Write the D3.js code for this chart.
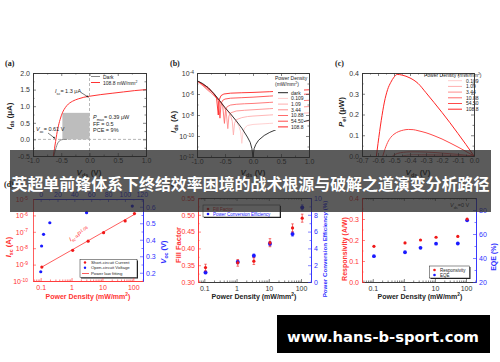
<!DOCTYPE html>
<html>
<head>
<meta charset="utf-8">
<script src="https://cdn.jsdelivr.net/npm/d3@7/dist/d3.min.js"></script>
<style>
body { margin: 0; background: #fff; }
svg { display: block; }
</style>
</head>
<body>
<div id="container"></div>
<script>
// ---------- data ----------
const densities = [0.109, 1.09, 3.44, 10.88, 54.5, 108.8];
const densityLabels = ["0.109", "1.09", "3.44", "10.88", "54.50", "108.8"];
const densityColors = ["#ffcccc", "#ffaeae", "#ff8e8e", "#ff6c6c", "#ff4a4a", "#ff2424"];

// (a) I-V, dark and 108.8 mW/mm2
const ivDarkV = [-0.63, -0.61, -0.59, -0.57, -0.55, -0.52, -0.49, -0.46, -0.4];
const ivDarkI = [-0.5, -0.36, -0.24, -0.14, -0.08, -0.03, -0.01, 0, 0];
const ivLightV = [-0.64, -0.62, -0.6, -0.58, -0.56, -0.54, -0.52, -0.5, -0.48, -0.45, -0.4, -0.3, -0.2, -0.1, 0, 0.2, 0.4, 0.6, 0.8, 1.0];
const ivLightI = [-0.5, -0.28, -0.06, 0.15, 0.33, 0.48, 0.6, 0.71, 0.8, 0.9, 1.02, 1.15, 1.22, 1.27, 1.3, 1.35, 1.39, 1.43, 1.47, 1.5];
const mpV = -0.48, mpI = 0.8;

// (b) log10 |Ids| (A)
const logDarkV = [-1, -0.9, -0.8, -0.7, -0.6, -0.5, -0.4, -0.3, -0.2, -0.1, -0.05, -0.02, 0, 0.02, 0.05, 0.1, 0.2, 0.3, 0.5, 0.7, 1.0];
const logDarkI = [-4.73, -5.0, -5.4, -5.95, -6.6, -7.3, -7.9, -8.55, -9.25, -10.1, -10.6, -11.2, -12, -11.2, -10.8, -10.4, -9.95, -9.65, -9.2, -8.9, -8.5];
const logLightV = [
  [-1, -0.6, -0.4, -0.3, -0.25, -0.22, -0.2, -0.18, -0.15, -0.1, 0, 0.3, 0.6, 1.0],
  [-1, -0.6, -0.45, -0.4, -0.37, -0.35, -0.33, -0.3, -0.2, -0.1, 0, 0.3, 0.6, 1.0],
  [-1, -0.6, -0.52, -0.48, -0.45, -0.43, -0.4, -0.3, -0.15, 0, 0.3, 0.6, 1.0],
  [-1, -0.7, -0.58, -0.54, -0.51, -0.49, -0.46, -0.4, -0.3, -0.15, 0, 0.3, 0.6, 1.0],
  [-1, -0.8, -0.68, -0.62, -0.59, -0.57, -0.54, -0.5, -0.4, -0.2, 0, 0.3, 0.6, 1.0],
  [-1, -0.8, -0.7, -0.65, -0.62, -0.6, -0.57, -0.52, -0.4, -0.2, 0, 0.3, 0.6, 1.0]
];
const logLightI = [
  [-4.73, -6.6, -7.9, -8.6, -9.1, -9.6, -10.7, -9.7, -9.25, -9.0, -8.9, -8.8, -8.7, -8.6],
  [-4.73, -6.6, -7.65, -8.05, -8.6, -9.9, -8.8, -8.45, -8.25, -8.15, -8.1, -8.0, -7.9, -7.8],
  [-4.73, -6.6, -7.2, -7.65, -9.3, -8.1, -7.8, -7.62, -7.55, -7.5, -7.4, -7.3, -7.2],
  [-4.73, -5.95, -6.75, -7.2, -8.8, -7.5, -7.2, -7.05, -6.98, -6.93, -6.9, -6.8, -6.7, -6.6],
  [-4.73, -5.4, -6.1, -6.6, -8.3, -6.9, -6.6, -6.48, -6.4, -6.35, -6.3, -6.2, -6.1, -6.0],
  [-4.73, -5.4, -6.0, -6.4, -8.0, -6.5, -6.15, -6.0, -5.92, -5.88, -5.85, -5.78, -5.7, -5.6]
];

// (c) electrical power (uW)
const powV = [
  [-0.2, -0.15, -0.1, -0.05, 0],
  [-0.35, -0.3, -0.25, -0.2, -0.1, 0],
  [-0.45, -0.42, -0.38, -0.33, -0.25, -0.15, 0],
  [-0.51, -0.48, -0.44, -0.4, -0.35, -0.3, -0.2, -0.1, 0],
  [-0.57, -0.56, -0.54, -0.52, -0.5, -0.47, -0.44, -0.41, -0.38, -0.35, -0.3, -0.25, -0.2, -0.15, -0.1, -0.05, 0],
  [-0.61, -0.6, -0.58, -0.56, -0.54, -0.52, -0.5, -0.48, -0.45, -0.4, -0.35, -0.3, -0.25, -0.2, -0.15, -0.1, -0.05, 0]
];
const powP = [
  [0, 0.0001, 0.00015, 0.0001, 0],
  [0, 0.001, 0.0015, 0.0015, 0.001, 0],
  [0, 0.004, 0.006, 0.0065, 0.006, 0.004, 0],
  [0, 0.012, 0.018, 0.02, 0.02, 0.019, 0.014, 0.008, 0],
  [0, 0.025, 0.065, 0.09, 0.105, 0.118, 0.125, 0.128, 0.127, 0.122, 0.112, 0.098, 0.082, 0.063, 0.043, 0.022, 0],
  [0, 0.06, 0.17, 0.26, 0.32, 0.355, 0.38, 0.393, 0.39, 0.376, 0.35, 0.305, 0.258, 0.21, 0.16, 0.108, 0.055, 0]
];

// (d) short-circuit current (A) and open-circuit voltage (V)
const iscValues = [7.1e-10, 7.4e-9, 2.7e-8, 8.9e-8, 4.6e-7, 1.3e-6];
const vocValues = [0.206, 0.362, 0.433, 0.503, 0.564, 0.604];
const fitP = [0.109, 108.8];
const fitI = [7.1e-10, 1.15e-6];

// (e) fill factor and PCE (%)
const ffValues = [0.343, 0.357, 0.362, 0.417, 0.461, 0.49];
const ffErr = [0.01, 0.01, 0.01, 0.012, 0.012, 0.012];
const pceValues = [1.14, 2.38, 3.13, 4.56, 5.71, 8.88];
const pceErr = [0.15, 0.2, 0.2, 0.25, 0.25, 0.3];

// (f) responsivity (A/W) and EQE (%)
const respValues = [0.17, 0.186, 0.2, 0.213, 0.217, 0.3];
const eqeValues = [41.5, 44.8, 48.5, 51.9, 52.1, 71.4];

// tick labels
const aXTicks = [-1, -0.5, 0, 0.5, 1];
const aYTicks = [-0.5, 0, 0.5, 1, 1.5, 2];
const bYTicks = [1e-12, 1e-10, 1e-8, 1e-6, 1e-4];
const cXTicks = [-0.7, -0.6, -0.5, -0.4, -0.3, -0.2, -0.1, 0];
const cYTicks = [0, 0.1, 0.2, 0.3, 0.4];
const pdTicks = [0.1, 1, 10, 100];
const dTopTicks = [0, 20, 40, 60, 80, 100, 120];
const dLeftTicks = [1e-10, 1e-9, 1e-8, 1e-7, 1e-6, 1e-5];
const dRightTicks = [0.2, 0.3, 0.4, 0.5, 0.6];
const eLeftTicks = [0.3, 0.35, 0.4, 0.45, 0.5, 0.55];
const eRightTicks = [0, 2, 4, 6, 8, 10];
const fLeftTicks = [0, 0.1, 0.2, 0.3, 0.4];
const fRightTicks = [20, 40, 60, 80];

const bannerText = "英超单前锋体系下终结效率困境的战术根源与破解之道演变分析路径";
const siteText = "www.hans-b-sport.com";

// ---------- setup ----------
const FONT = "'Liberation Sans', Arial, sans-serif";
const INK = "#333";
const RED = "#ff3333";
const BLUE = "#3030ff";

const svg = d3.select("#container").append("svg")
  .attr("width", 500).attr("height", 362);

svg.append("defs").append("marker")
  .attr("id", "arr").attr("viewBox", "0 0 10 10")
  .attr("refX", 9).attr("refY", 5)
  .attr("markerWidth", 4).attr("markerHeight", 4)
  .attr("orient", "auto")
  .append("path").attr("d", "M0,1 L10,5 L0,9 Z").attr("fill", "#222");

function ticks(scale, side, pos, values, len, fmt, color, pad) {
  const mk = {bottom: d3.axisBottom, top: d3.axisTop, left: d3.axisLeft, right: d3.axisRight}[side];
  const gen = mk(scale).tickValues(values).tickSize(-len).tickSizeOuter(0)
    .tickPadding(pad == null ? 2 : pad).tickFormat(fmt || "");
  const horiz = side === "bottom" || side === "top";
  const g = svg.append("g")
    .attr("transform", horiz ? `translate(0,${pos})` : `translate(${pos},0)`)
    .call(gen);
  g.attr("font-family", FONT).attr("font-size", 7);
  g.select(".domain").attr("stroke", color).attr("stroke-width", 0.8);
  g.selectAll(".tick line").attr("stroke", color).attr("stroke-width", 0.6);
  g.selectAll(".tick text").attr("fill", color);
  return g;
}

function side(scale, s, pos, major, minor, fmt, color, pad) {
  if (minor) ticks(scale, s, pos, minor, 1.5, null, color);
  return ticks(scale, s, pos, major, 3, fmt, color, pad);
}

function supLabels(g) {
  g.selectAll(".tick text").each(function(d) {
    const t = d3.select(this);
    t.text("");
    t.append("tspan").text("10");
    t.append("tspan").attr("dy", "-0.45em").attr("font-size", "0.7em")
      .text(Math.round(Math.log10(d)));
  });
}

function logMinor(scale) {
  const [a, b] = scale.domain();
  const out = [];
  for (let e = -13; e <= 3; e++) {
    for (let m = 2; m <= 9; m++) {
      const v = m * Math.pow(10, e);
      if (v > a && v < b) out.push(v);
    }
  }
  return out;
}

function rich(x, y, parts, o) {
  const size = o.size || 7;
  const t = svg.append("text").attr("x", x).attr("y", y)
    .attr("font-family", o.family || FONT).attr("font-size", size)
    .attr("font-weight", o.bold ? "bold" : null)
    .attr("fill", o.color || "#222").attr("text-anchor", o.anchor || "start");
  if (o.rotate) t.attr("transform", `rotate(${o.rotate},${x},${y})`);
  let cur = 0;
  parts.forEach(p => {
    const s = typeof p === "string" ? p : p[0];
    const k = typeof p === "string" ? "" : p[1];
    const off = k.includes("sub") ? size * 0.3 : k.includes("sup") ? -size * 0.4 : 0;
    const ts = t.append("tspan").text(s).attr("dy", off - cur);
    cur = off;
    if (k.includes("sub") || k.includes("sup")) ts.attr("font-size", size * 0.7);
    if (k.includes("it")) ts.attr("font-style", "italic");
  });
  return t;
}

function legendBox(x, y, w, h) {
  svg.append("rect").attr("x", x + 1).attr("y", y + 1).attr("width", w).attr("height", h).attr("fill", "#222");
  svg.append("rect").attr("x", x).attr("y", y).attr("width", w).attr("height", h)
    .attr("fill", "#fff").attr("stroke", "#222").attr("stroke-width", 0.5);
}

function panelTag(x, y, s) {
  svg.append("text").attr("x", x).attr("y", y).text(s)
    .attr("font-family", "'Liberation Serif', serif").attr("font-weight", "bold")
    .attr("font-size", 8).attr("fill", "#222");
}

const pdTitle = ["Power Density (mW/mm", ["2", "sup"], ")"];

// ---------- (a) ----------
const xA = d3.scaleLinear().domain([-1, 1]).range([33, 146]);
const yA = d3.scaleLinear().domain([-0.5, 2]).range([156, 73]);

svg.append("line").attr("x1", xA(-1)).attr("x2", xA(1)).attr("y1", yA(0)).attr("y2", yA(0))
  .attr("stroke", "#999").attr("stroke-width", 0.7).attr("stroke-dasharray", "3,2");
svg.append("line").attr("x1", xA(0)).attr("x2", xA(0)).attr("y1", yA(2)).attr("y2", yA(-0.5))
  .attr("stroke", "#999").attr("stroke-width", 0.7).attr("stroke-dasharray", "3,2");
svg.append("rect")
  .attr("x", xA(mpV)).attr("y", yA(mpI))
  .attr("width", xA(0) - xA(mpV)).attr("height", yA(0) - yA(mpI))
  .attr("fill", "#bdbdbd");

const lineA = d3.line().x(d => xA(d[0])).y(d => yA(d[1])).curve(d3.curveMonotoneX);
svg.append("path").datum(d3.zip(ivDarkV, ivDarkI)).attr("d", lineA)
  .attr("fill", "none").attr("stroke", "#888").attr("stroke-width", 1);
svg.append("path").datum(d3.zip(ivLightV, ivLightI)).attr("d", lineA)
  .attr("fill", "none").attr("stroke", RED).attr("stroke-width", 1);

rich(55, 93, [["I", "it"], ["sc", "sub"], "= 1.3 μA"], {size: 5.5});
svg.append("line").attr("x1", 81).attr("y1", 92.5).attr("x2", xA(0) - 1).attr("y2", yA(1.3) + 1)
  .attr("stroke", "#222").attr("stroke-width", 0.6).attr("marker-end", "url(#arr)");
rich(36, 131, [["V", "it"], ["oc", "sub"], "= 0.61 V"], {size: 5.5});
svg.append("line").attr("x1", 48).attr("y1", 133).attr("x2", xA(-0.61)).attr("y2", yA(0) - 1)
  .attr("stroke", "#222").attr("stroke-width", 0.6).attr("marker-end", "url(#arr)");
rich(93, 119, [["P", "it"], ["max", "sub"], "= 0.39 μW"], {size: 5.5});
rich(93, 126, ["FF = 0.5"], {size: 5.5});
rich(93, 132, ["PCE = 9%"], {size: 5.5});

svg.append("line").attr("x1", 91).attr("x2", 100).attr("y1", 76.5).attr("y2", 76.5).attr("stroke", "#888").attr("stroke-width", 1);
svg.append("line").attr("x1", 91).attr("x2", 100).attr("y1", 82.5).attr("y2", 82.5).attr("stroke", RED).attr("stroke-width", 1);
rich(103, 78.5, ["Dark"], {size: 5});
rich(103, 84.5, ["108.8 mW/mm", ["2", "sup"]], {size: 5});

side(xA, "bottom", 156, aXTicks, d3.range(-0.75, 1, 0.5), d => d.toFixed(1), INK, 2);
side(xA, "top", 73, aXTicks, d3.range(-0.75, 1, 0.5), null, INK);
side(yA, "left", 33, aYTicks, d3.range(-0.25, 2, 0.5), d => d.toFixed(1), INK, 3);
side(yA, "right", 146, aYTicks, d3.range(-0.25, 2, 0.5), null, INK);
rich(12, 116, [["I", "it"], ["ds", "sub"], " (μA)"], {size: 8, bold: true, anchor: "middle", rotate: -90});
rich(89, 175, [["V", "it"], ["ds", "sub"], " (V)"], {size: 8, bold: true, anchor: "middle"});
panelTag(5, 66, "(a)");

// ---------- (b) ----------
const xB = d3.scaleLinear().domain([-1, 1]).range([197, 309]);
const yB = d3.scaleLog().domain([1e-12, 1e-4]).range([157, 73]);
const lineB = d3.line().x(d => xB(d[0])).y(d => yB(Math.pow(10, d[1])));

logLightV.forEach((vs, i) => {
  svg.append("path").datum(d3.zip(vs, logLightI[i])).attr("d", lineB)
    .attr("fill", "none").attr("stroke", densityColors[i]).attr("stroke-width", 0.9);
});
svg.append("path").datum(d3.zip(logDarkV, logDarkI)).attr("d", lineB)
  .attr("fill", "none").attr("stroke", "#222").attr("stroke-width", 0.9);

svg.append("rect").attr("x", 273).attr("y", 74).attr("width", 31).attr("height", 56).attr("fill", "#fff");
rich(275, 80, ["Power Density"], {size: 5});
rich(275, 86, ["(mW/mm", ["2", "sup"], ")"], {size: 5});
["dark"].concat(densityLabels).forEach((s, i) => {
  const yy = 92.7 + i * 5.7;
  svg.append("line").attr("x1", 278).attr("x2", 288).attr("y1", yy).attr("y2", yy)
    .attr("stroke", i === 0 ? "#222" : densityColors[i - 1]).attr("stroke-width", 1);
  rich(291, yy + 1.8, [s], {size: 5});
});

side(xB, "bottom", 157, aXTicks, d3.range(-0.75, 1, 0.5), d => d.toFixed(1), INK, 2);
side(xB, "top", 73, aXTicks, d3.range(-0.75, 1, 0.5), null, INK);
supLabels(side(yB, "left", 197, bYTicks, [1e-11, 1e-9, 1e-7, 1e-5], d => d, INK, 3));
side(yB, "right", 309, bYTicks, [1e-11, 1e-9, 1e-7, 1e-5], null, INK);
rich(176, 122, [["I", "it"], ["ds", "sub"], " (A)"], {size: 8, bold: true, anchor: "middle", rotate: -90});
rich(253, 175, [["V", "it"], ["ds", "sub"], " (V)"], {size: 8, bold: true, anchor: "middle"});
panelTag(170, 66, "(b)");

// ---------- (c) ----------
const xC = d3.scaleLinear().domain([-0.7, 0]).range([362, 474]);
const yC = d3.scaleLinear().domain([0, 0.4]).range([156, 73]);
const lineC = d3.line().x(d => xC(d[0])).y(d => yC(d[1])).curve(d3.curveMonotoneX);
powV.forEach((vs, i) => {
  svg.append("path").datum(d3.zip(vs, powP[i])).attr("d", lineC)
    .attr("fill", "none").attr("stroke", densityColors[i]).attr("stroke-width", 1);
});
rich(424, 76.5, ["Power Density (mW/mm", ["2", "sup"], ")"], {size: 5});
densityLabels.forEach((s, i) => {
  const yy = 80.7 + i * 5.7;
  svg.append("line").attr("x1", 448).attr("x2", 462).attr("y1", yy).attr("y2", yy)
    .attr("stroke", densityColors[i]).attr("stroke-width", 1);
  rich(466, yy + 1.8, [s], {size: 5});
});
side(xC, "bottom", 156, cXTicks, d3.range(-0.65, 0, 0.1), d => d.toFixed(1), INK, 2);
side(xC, "top", 73, cXTicks, d3.range(-0.65, 0, 0.1), null, INK);
side(yC, "left", 362, cYTicks, d3.range(0.05, 0.4, 0.1), d => d.toFixed(1), INK, 3);
side(yC, "right", 474, cYTicks, d3.range(0.05, 0.4, 0.1), null, INK);
rich(344, 112, [["P", "it"], ["el", "sub"], " (μW)"], {size: 8, bold: true, anchor: "middle", rotate: -90});
rich(418, 175, [["V", "it"], ["ds", "sub"], " (V)"], {size: 8, bold: true, anchor: "middle"});
panelTag(335, 66, "(c)");

// ---------- (d) ----------
const xD = d3.scaleLog().domain([0.0564, 206]).range([33, 143]);
const xDtop = d3.scaleLinear().domain([-9.1, 121.5]).range([33, 143]);
const yD = d3.scaleLog().domain([1e-10, 1e-5]).range([281, 199]);
const yD2 = d3.scaleLinear().domain([0.15, 0.647]).range([281, 199]);

svg.append("path").datum(d3.zip(fitP, fitI))
  .attr("d", d3.line().x(d => xD(d[0])).y(d => yD(d[1])))
  .attr("stroke", RED).attr("stroke-width", 0.8).attr("fill", "none");
svg.append("g").selectAll("circle").data(d3.zip(densities, iscValues)).join("circle")
  .attr("cx", d => xD(d[0])).attr("cy", d => yD(d[1])).attr("r", 1.6).attr("fill", "#f01818");
svg.append("g").selectAll("circle").data(d3.zip(densities, vocValues)).join("circle")
  .attr("cx", d => xDtop(d[0])).attr("cy", d => yD2(d[1])).attr("r", 1.6).attr("fill", "#1a1aff");
rich(80, 236, [["I", "it"], ["sc", "sub"], "∝P", ["1.06", "sup"]], {size: 6, color: RED, anchor: "middle", rotate: -30});

legendBox(80, 259.5, 57, 18);
svg.append("circle").attr("cx", 85).attr("cy", 262.5).attr("r", 1.2).attr("fill", "#f01818");
svg.append("circle").attr("cx", 85).attr("cy", 267.8).attr("r", 1.2).attr("fill", "#1a1aff");
svg.append("line").attr("x1", 82).attr("x2", 89).attr("y1", 273.5).attr("y2", 273.5).attr("stroke", RED).attr("stroke-width", 0.8);
rich(91, 264, ["Short-circuit Current"], {size: 4.3});
rich(91, 269.3, ["Open-circuit Voltage"], {size: 4.3});
rich(91, 275, ["Power law fitting"], {size: 4.3});

side(xD, "bottom", 281, pdTicks, logMinor(xD), d => String(d), RED, 4);
side(xDtop, "top", 199, dTopTicks, d3.range(10, 121, 20), d => String(d), BLUE, 2);
supLabels(side(yD, "left", 33, dLeftTicks, null, d => d, RED, 5));
side(yD2, "right", 143, dRightTicks, d3.range(0.25, 0.6, 0.1), d => d.toFixed(1), BLUE, 3);
rich(10.5, 247, [["I", "it"], ["sc", "sub"], " (A)"], {size: 7.5, bold: true, anchor: "middle", rotate: -90, color: RED});
rich(166, 252, [["V", "it"], ["oc", "sub"], " (V)"], {size: 7.5, bold: true, anchor: "middle", rotate: -90, color: BLUE});
rich(88, 299, pdTitle, {size: 7, bold: true, anchor: "middle", color: RED});
panelTag(4, 187, "(d)");

// ---------- (e) ----------
const xE = d3.scaleLog().domain([0.0637, 204]).range([198, 311]);
const yE = d3.scaleLinear().domain([0.3, 0.55]).range([282, 198]);
const yE2 = d3.scaleLinear().domain([0, 10]).range([282, 198]);

function errPoints(xs, ys, es, x, y, color, r) {
  const rows = d3.zip(xs, ys, es);
  const g = svg.append("g").attr("stroke", color).attr("stroke-width", 0.6);
  g.append("g").selectAll("line").data(rows).join("line")
    .attr("x1", d => x(d[0])).attr("x2", d => x(d[0]))
    .attr("y1", d => y(d[1] - d[2])).attr("y2", d => y(d[1] + d[2]));
  [-1, 1].forEach(sgn => {
    g.append("g").selectAll("line").data(rows).join("line")
      .attr("x1", d => x(d[0]) - 1.3).attr("x2", d => x(d[0]) + 1.3)
      .attr("y1", d => y(d[1] + sgn * d[2])).attr("y2", d => y(d[1] + sgn * d[2]));
  });
  g.append("g").selectAll("circle").data(rows).join("circle")
    .attr("cx", d => x(d[0])).attr("cy", d => y(d[1])).attr("r", r)
    .attr("fill", color).attr("stroke", "none");
}
errPoints(densities, pceValues, pceErr, xE, yE2, "#1a1aff", 2);
errPoints(densities, ffValues, ffErr, xE, yE, "#f01818", 1.6);

legendBox(203, 205, 77, 12);
svg.append("circle").attr("cx", 208).attr("cy", 209).attr("r", 1.3).attr("fill", "#f01818");
svg.append("circle").attr("cx", 208).attr("cy", 214).attr("r", 1.3).attr("fill", "#1a1aff");
rich(213, 210.6, ["Fill Factor"], {size: 4.5, color: "#f01818"});
rich(213, 215.6, ["Power Conversion Efficiency"], {size: 4.5, color: "#1a1aff"});

side(xE, "bottom", 282, pdTicks, logMinor(xE), d => String(d), INK, 4);
side(xE, "top", 198, pdTicks, logMinor(xE), null, INK);
side(yE, "left", 198, eLeftTicks, d3.range(0.325, 0.55, 0.05), d => d.toFixed(2), RED, 3);
side(yE2, "right", 311, eRightTicks, d3.range(1, 10, 2), d => String(d), BLUE, 3);
rich(180.5, 245, ["Fill Factor"], {size: 7.5, bold: true, anchor: "middle", rotate: -90, color: RED});
rich(327, 249, ["Power Conversion Efficiency (%)"], {size: 6.2, bold: true, anchor: "middle", rotate: -90, color: BLUE});
rich(254, 299, pdTitle, {size: 7, bold: true, anchor: "middle", color: "#222"});
panelTag(168, 187, "(e)");

// ---------- (f) ----------
const xF = d3.scaleLog().domain([0.045, 210]).range([362, 476]);
const yF = d3.scaleLinear().domain([0, 0.4]).range([282, 198]);
const yF2 = d3.scaleLinear().domain([20, 90]).range([282, 198]);

svg.append("g").selectAll("circle").data(d3.zip(densities, eqeValues)).join("circle")
  .attr("cx", d => xF(d[0])).attr("cy", d => yF2(d[1])).attr("r", 1.9).attr("fill", "#1a1aff");
svg.append("g").selectAll("circle").data(d3.zip(densities, respValues)).join("circle")
  .attr("cx", d => xF(d[0])).attr("cy", d => yF(d[1])).attr("r", 1.6).attr("fill", "#f01818");
rich(450, 207, [["V", "it"], ["ds", "sub"], "=0 V"], {size: 5.5});

legendBox(429.5, 266, 40, 12);
svg.append("circle").attr("cx", 434.5).attr("cy", 270).attr("r", 1.3).attr("fill", "#f01818");
svg.append("circle").attr("cx", 434.5).attr("cy", 275).attr("r", 1.3).attr("fill", "#1a1aff");
rich(440, 271.6, ["Responsivity"], {size: 4.5});
rich(440, 276.6, ["EQE"], {size: 4.5});

side(xF, "bottom", 282, pdTicks, logMinor(xF), d => String(d), INK, 4);
side(xF, "top", 198, pdTicks, logMinor(xF), null, INK);
side(yF, "left", 362, fLeftTicks, d3.range(0.05, 0.4, 0.1), d => d.toFixed(1), RED, 3);
side(yF2, "right", 476, fRightTicks, d3.range(30, 90, 20), d => String(d), BLUE, 3);
rich(347, 249, ["Responsivity (A/W)"], {size: 7, bold: true, anchor: "middle", rotate: -90, color: RED});
rich(495.5, 257, ["EQE (%)"], {size: 7, bold: true, anchor: "middle", rotate: -90, color: BLUE});
rich(420, 299, pdTitle, {size: 7, bold: true, anchor: "middle", color: "#222"});
panelTag(333, 187, "(f)");

// ---------- overlays ----------
svg.append("rect").attr("x", 10).attr("y", 150).attr("width", 481).attr("height", 62)
  .attr("fill", "#282828").attr("opacity", 0.76);
svg.append("text").attr("x", 250.5).attr("y", 190)
  .attr("text-anchor", "middle").attr("textLength", 478).attr("lengthAdjust", "spacingAndGlyphs")
  .attr("font-family", "'Noto Sans CJK SC', sans-serif").attr("font-weight", "bold")
  .attr("font-size", 16).attr("fill", "#fff").text(bannerText);

svg.append("rect").attr("x", 277).attr("y", 315).attr("width", 213).attr("height", 38).attr("fill", "#000");
svg.append("text").attr("x", 383).attr("y", 342)
  .attr("text-anchor", "middle").attr("textLength", 192).attr("lengthAdjust", "spacingAndGlyphs")
  .attr("font-family", "'DejaVu Sans', sans-serif").attr("font-weight", "bold")
  .attr("font-size", 14.5).attr("fill", "#fff").text(siteText);
</script>
</body>
</html>
